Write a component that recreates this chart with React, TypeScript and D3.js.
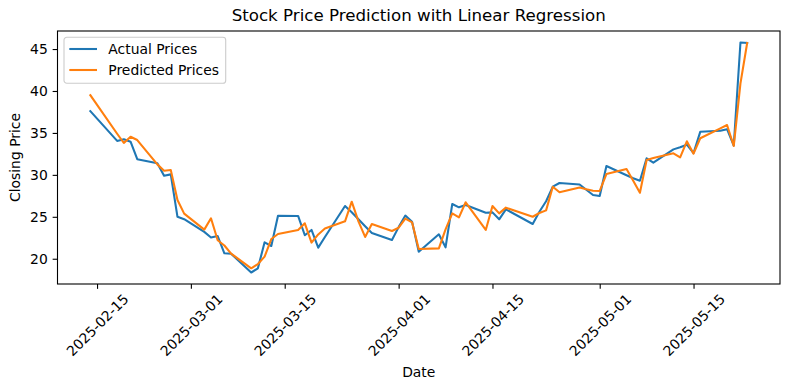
import { useEffect, useRef } from "react";
import * as d3 from "d3";

// trading days in the test window
const dates = [
  "2025-02-14", "2025-02-18", "2025-02-19", "2025-02-20", "2025-02-21",
  "2025-02-24", "2025-02-25", "2025-02-26", "2025-02-27", "2025-02-28",
  "2025-03-03", "2025-03-04", "2025-03-05", "2025-03-06", "2025-03-07",
  "2025-03-10", "2025-03-11", "2025-03-12", "2025-03-13", "2025-03-14",
  "2025-03-17", "2025-03-18", "2025-03-19", "2025-03-20", "2025-03-21",
  "2025-03-24", "2025-03-25", "2025-03-26", "2025-03-27", "2025-03-28",
  "2025-03-31", "2025-04-01", "2025-04-02", "2025-04-03", "2025-04-04",
  "2025-04-07", "2025-04-08", "2025-04-09", "2025-04-10", "2025-04-11",
  "2025-04-14", "2025-04-15", "2025-04-16", "2025-04-17", "2025-04-21",
  "2025-04-22", "2025-04-23", "2025-04-24", "2025-04-25", "2025-04-28",
  "2025-04-29", "2025-04-30", "2025-05-01", "2025-05-02", "2025-05-05",
  "2025-05-06", "2025-05-07", "2025-05-08", "2025-05-09", "2025-05-12",
  "2025-05-13", "2025-05-14", "2025-05-15", "2025-05-16", "2025-05-19",
  "2025-05-20", "2025-05-21", "2025-05-22", "2025-05-23",
];

const actualPrices = [
  37.6, 34.05, 34.25, 33.95, 31.87, 31.38, 29.9, 30.06, 25.0, 24.72,
  23.2, 22.54, 22.71, 20.65, 20.6, 18.36, 18.86, 21.96, 21.52, 25.13,
  25.1, 22.8, 23.43, 21.32, 22.6, 26.29, 25.55, 24.7, 23.87, 23.07,
  22.23, 23.77, 25.15, 24.42, 20.84, 22.91, 21.36, 26.53, 26.13, 26.41,
  25.49, 25.53, 24.7, 25.89, 24.14, 25.6, 26.85, 28.59, 29.03, 28.85,
  28.22, 27.6, 27.48, 31.05, 29.95, 29.6, 29.3, 31.97, 31.45, 33.04,
  33.3, 33.6, 32.6, 35.13, 35.25, 35.45, 33.5, 45.78, 45.72,
];

const predictedPrices = [
  39.5, 34.9, 33.8, 34.55, 34.15, 31.25, 30.5, 30.58, 27.0, 25.38,
  23.47, 24.82, 22.2, 21.58, 20.62, 18.86, 19.37, 20.25, 22.35, 22.95,
  23.43, 24.22, 21.92, 22.9, 23.6, 24.46, 26.8, 24.46, 22.6, 24.14,
  23.31, 23.7, 24.78, 24.34, 21.16, 21.24, 23.5, 25.41, 24.94, 26.73,
  23.43, 26.29, 25.41, 26.09, 25.01, 25.45, 25.77, 28.59, 27.93, 28.49,
  28.29, 28.11, 28.08, 30.1, 30.7, 29.3, 27.87, 31.77, 32.0, 32.57,
  32.09, 34.0, 32.53, 34.36, 35.55, 35.94, 33.44, 40.9, 45.72,
];

const yTicks = [20, 25, 30, 35, 40, 45];
const xTickLabels = [
  "2025-02-15", "2025-03-01", "2025-03-15", "2025-04-01",
  "2025-04-15", "2025-05-01", "2025-05-15",
];

const FONT = "DejaVu Sans, sans-serif";

export default function App() {
  const svgRef = useRef<SVGSVGElement | null>(null);

  useEffect(() => {
    const width = 790;
    const height = 390;
    const margin = { top: 31, right: 10, bottom: 106, left: 57.5 };
    const innerW = width - margin.left - margin.right;
    const innerH = height - margin.top - margin.bottom;

    const svg = d3.select(svgRef.current).attr("width", width).attr("height", height);
    svg.selectAll("*").remove();

    const parse = d3.utcParse("%Y-%m-%d");
    const fmt = d3.utcFormat("%Y-%m-%d");
    const xs = dates.map((d) => parse(d)!);

    // matplotlib-style 5% margins
    const [x0, x1] = d3.extent(xs) as [Date, Date];
    const xPad = (x1.getTime() - x0.getTime()) * 0.05;
    const all = actualPrices.concat(predictedPrices);
    const yMin = d3.min(all)!;
    const yMax = d3.max(all)!;
    const yPad = (yMax - yMin) * 0.05;

    const x = d3
      .scaleUtc()
      .domain([new Date(x0.getTime() - xPad), new Date(x1.getTime() + xPad)])
      .range([0, innerW]);
    const y = d3.scaleLinear().domain([yMin - yPad, yMax + yPad]).range([innerH, 0]);

    const chart = svg.append("g").attr("transform", `translate(${margin.left}, ${margin.top})`);

    const line = (vals: number[]) =>
      d3
        .line<number>()
        .x((_, i) => x(xs[i]))
        .y((d) => y(d))(vals);

    chart
      .append("path")
      .attr("d", line(actualPrices)!)
      .attr("fill", "none")
      .attr("stroke", "#1f77b4")
      .attr("stroke-width", 2.08)
      .attr("stroke-linejoin", "round")
      .attr("stroke-linecap", "square");

    chart
      .append("path")
      .attr("d", line(predictedPrices)!)
      .attr("fill", "none")
      .attr("stroke", "#ff7f0e")
      .attr("stroke-width", 2.08)
      .attr("stroke-linejoin", "round")
      .attr("stroke-linecap", "square");

    // X axis
    const xAxis = chart
      .append("g")
      .attr("transform", `translate(0, ${innerH})`)
      .call(
        d3
          .axisBottom(x)
          .tickValues(xTickLabels.map((d) => parse(d)!))
          .tickFormat((d) => fmt(d as Date))
          .tickSize(4.86)
          .tickPadding(4.86)
      );
    xAxis.select(".domain").remove();
    xAxis.selectAll("line").attr("stroke", "#000").attr("stroke-width", 1.1);
    xAxis
      .selectAll("text")
      .attr("y", null)
      .attr("dy", null)
      .attr("dominant-baseline", "central")
      .attr("text-anchor", "middle")
      .attr("transform", "translate(0, 41) rotate(-45)")
      .attr("fill", "#000")
      .style("font-size", "13.9px")
      .style("font-family", FONT);

    // Y axis
    const yAxis = chart
      .append("g")
      .call(d3.axisLeft(y).tickValues(yTicks).tickSize(4.86).tickPadding(4.86));
    yAxis.select(".domain").remove();
    yAxis.selectAll("line").attr("stroke", "#000").attr("stroke-width", 1.1);
    yAxis
      .selectAll("text")
      .attr("fill", "#000")
      .style("font-size", "13.9px")
      .style("font-family", FONT);

    // spines
    chart
      .append("rect")
      .attr("width", innerW)
      .attr("height", innerH)
      .attr("fill", "none")
      .attr("stroke", "#000")
      .attr("stroke-width", 1.1);

    // labels
    svg
      .append("text")
      .attr("x", margin.left + innerW / 2)
      .attr("y", 21)
      .attr("text-anchor", "middle")
      .style("font-size", "16.67px")
      .style("font-family", FONT)
      .text("Stock Price Prediction with Linear Regression");

    svg
      .append("text")
      .attr("x", margin.left + innerW / 2)
      .attr("y", 377)
      .attr("text-anchor", "middle")
      .style("font-size", "13.9px")
      .style("font-family", FONT)
      .text("Date");

    svg
      .append("text")
      .attr("transform", `translate(20, ${margin.top + innerH / 2}) rotate(-90)`)
      .attr("text-anchor", "middle")
      .style("font-size", "13.9px")
      .style("font-family", FONT)
      .text("Closing Price");

    // legend
    const legend = svg.append("g").attr("transform", "translate(64, 37.3)");
    legend
      .append("rect")
      .attr("width", 161.7)
      .attr("height", 46)
      .attr("rx", 2.8)
      .attr("fill", "#fff")
      .attr("fill-opacity", 0.8)
      .attr("stroke", "#cccccc")
      .attr("stroke-width", 1.1);
    const items = [
      { label: "Actual Prices", color: "#1f77b4" },
      { label: "Predicted Prices", color: "#ff7f0e" },
    ];
    items.forEach((it, i) => {
      const cy = 11.7 + i * 21;
      legend
        .append("line")
        .attr("x1", 5.3)
        .attr("x2", 33)
        .attr("y1", cy)
        .attr("y2", cy)
        .attr("stroke", it.color)
        .attr("stroke-width", 2.08);
      legend
        .append("text")
        .attr("x", 44.3)
        .attr("y", cy + 5)
        .style("font-size", "13.9px")
        .style("font-family", FONT)
        .text(it.label);
    });
  }, []);

  return <svg ref={svgRef} style={{ position: "absolute", left: 0, top: 0 }}></svg>;
}
